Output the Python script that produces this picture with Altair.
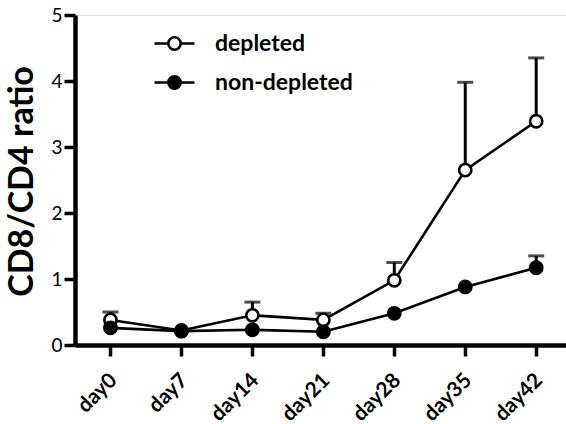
import altair as alt
import pandas as pd

# Time points and CD8/CD4 ratio (mean and SEM) per group
days = ["day0", "day7", "day14", "day21", "day28", "day35", "day42"]
depleted_mean = [0.38, 0.22, 0.45, 0.38, 0.98, 2.65, 3.39]
depleted_sem = [0.12, 0.0, 0.20, 0.10, 0.27, 1.33, 0.96]
nondepleted_mean = [0.26, 0.21, 0.23, 0.20, 0.48, 0.88, 1.17]
nondepleted_sem = [0.0, 0.0, 0.0, 0.0, 0.0, 0.0, 0.18]
groups = ["depleted", "non-depleted"]

rows = []
for g, means, sems in [(groups[0], depleted_mean, depleted_sem),
                       (groups[1], nondepleted_mean, nondepleted_sem)]:
    for i, (d, m, s) in enumerate(zip(days, means, sems)):
        rows.append({"idx": i, "day": d, "group": g, "mean": m,
                     "upper": m + s, "sem": s})
df = pd.DataFrame(rows)

FONT = "Lato"
label_expr = "[" + ",".join(f"'{d}'" for d in days) + "][datum.value]"

x_enc = alt.X(
    "idx:Q",
    scale=alt.Scale(domain=[-0.5, 6.42], nice=False, zero=False),
    axis=alt.Axis(values=list(range(len(days))), labelExpr=label_expr,
                  title=None, grid=False, labelAngle=-45,
                  labelAlign="right", labelBaseline="top",
                  labelFont=FONT, labelFontWeight="bold", labelFontSize=21,
                  labelColor="black", labelPadding=13, labelOffset=-5,
                  domainColor="black", domainWidth=4.5,
                  tickColor="black", tickWidth=3.5, tickSize=11),
)
y_scale = alt.Scale(domain=[0, 5], nice=False)
y_axis = alt.Axis(values=[0, 1, 2, 3, 4, 5], format="d", title="CD8/CD4 ratio",
                  grid=False,
                  labelFont=FONT, labelFontSize=19, labelColor="black",
                  labelPadding=2,
                  titleFont=FONT, titleFontSize=34, titleFontWeight="bold",
                  titleColor="black", titleAngle=270, titleAlign="center",
                  titleBaseline="middle", titleX=-53, titleY=166,
                  domainColor="black", domainWidth=4.5,
                  tickColor="black", tickWidth=3.5, tickSize=11)

base = alt.Chart(df)

lines = base.mark_line(color="black", strokeWidth=2.6).encode(
    x=x_enc,
    y=alt.Y("mean:Q", scale=y_scale, axis=y_axis),
    detail="group:N",
)

err = base.transform_filter("datum.sem > 0")
err_rules = err.mark_rule(color="black", strokeWidth=3).encode(
    x=x_enc, y=alt.Y("mean:Q", scale=y_scale), y2="upper:Q"
)
err_caps = err.mark_tick(color="black", orient="horizontal", size=16,
                         thickness=3).encode(
    x=x_enc, y=alt.Y("upper:Q", scale=y_scale)
)

legend_symbol = ("M-1,0L-0.31,0M0.31,0A0.31,0.31,0,1,1,-0.31,0"
                 "A0.31,0.31,0,1,1,0.31,0M0.31,0L1,0")

points = base.mark_point(filled=True, size=150, stroke="black",
                         strokeWidth=2.6, opacity=1).encode(
    x=x_enc,
    y=alt.Y("mean:Q", scale=y_scale),
    fill=alt.Fill("group:N",
                  scale=alt.Scale(domain=groups, range=["white", "black"]),
                  legend=alt.Legend(title=None, orient="none",
                                    legendX=78, legendY=7,
                                    symbolType=legend_symbol, symbolSize=1600,
                                    symbolStrokeColor="black",
                                    symbolStrokeWidth=2.6, symbolOpacity=1,
                                    labelFont=FONT, labelFontSize=23,
                                    labelFontWeight="bold", labelColor="black",
                                    labelOffset=19, rowPadding=5, padding=0)),
)

chart = alt.layer(lines, err_rules, err_caps, points).properties(
    width=491, height=330,
    autosize=alt.AutoSizeParams(type="none"),
    padding={"left": 75, "top": 15, "right": 0, "bottom": 79},
).configure_view(stroke=None).configure(background="white")

chart.save("out.html", embed_options={"renderer": "svg", "actions": False})
